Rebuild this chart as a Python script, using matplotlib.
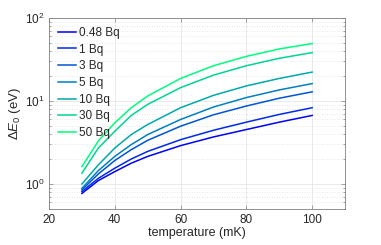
import matplotlib
matplotlib.use("Agg")
import matplotlib.pyplot as plt
import numpy as np

# temperature points (mK) and energy resolution (eV)
temperature = [30, 35, 40, 45, 50, 60, 70, 80, 90, 100]
labels = ["0.48 Bq", "1 Bq", "3 Bq", "5 Bq", "10 Bq", "30 Bq", "50 Bq"]
dE_048 = [0.77, 1.10, 1.41, 1.78, 2.15, 2.90, 3.69, 4.53, 5.56, 6.7]
dE_1 = [0.81, 1.17, 1.55, 2.00, 2.47, 3.42, 4.44, 5.56, 6.89, 8.3]
dE_3 = [0.85, 1.32, 1.92, 2.59, 3.36, 4.97, 6.82, 8.7, 10.8, 12.9]
dE_5 = [0.885, 1.45, 2.15, 2.98, 3.94, 5.99, 8.46, 11.0, 13.6, 16.2]
dE_10 = [1.0, 1.70, 2.71, 3.94, 5.21, 8.3, 11.7, 15.2, 18.7, 22.3]
dE_30 = [1.35, 2.71, 4.32, 6.7, 9.1, 14.5, 20.5, 26.6, 32.7, 38.3]
dE_50 = [1.62, 3.3, 5.46, 8.3, 11.5, 18.7, 26.6, 34.5, 42.4, 49.2]
series = [dE_048, dE_1, dE_3, dE_5, dE_10, dE_30, dE_50]

plt.rcParams["font.family"] = ["Liberation Sans", "DejaVu Sans"]
plt.rcParams["mathtext.fontset"] = "custom"
plt.rcParams["mathtext.rm"] = "Liberation Sans"
plt.rcParams["mathtext.it"] = "Liberation Sans:italic"
plt.rcParams["font.size"] = 8.5

fig = plt.figure(figsize=(3.81, 2.45), dpi=100)
ax = fig.add_axes([0.1286, 0.147, 0.777, 0.7795])

colors = plt.cm.winter(np.linspace(0, 1, len(series)))
for vals, lab, c in zip(series, labels, colors):
    ax.plot(temperature, vals, color=c, lw=1.1, label=lab,
            solid_joinstyle="round")

ax.set_yscale("log")
ax.set_xlim(20, 110)
ax.set_ylim(0.5, 100)
ax.set_xticks([20, 40, 60, 80, 100])
ax.set_yticks([1, 10, 100])

axis_col = "#262626"
for s in ax.spines.values():
    s.set_color("#808080")
    s.set_linewidth(0.6)
ax.tick_params(which="both", direction="in", top=True, right=True,
               colors="#808080", labelcolor=axis_col, width=0.5,
               labelsize=8.5)
ax.tick_params(which="major", length=3)
ax.tick_params(which="minor", length=1.6)
ax.tick_params(axis="x", which="minor", bottom=False, top=False)

ax.grid(True, which="major", color="#e6e6e6", lw=0.6, ls="-")
ax.grid(True, which="minor", axis="y", color="#e0e0e0", lw=0.6, ls=(0, (1, 2)))
ax.set_axisbelow(True)

ax.set_xlabel("temperature (mK)", color=axis_col, labelpad=1, fontsize=9)
ax.set_ylabel(r"$\mathit{\Delta E}_0$ (eV)", color=axis_col, labelpad=1,
              fontsize=9.5)

leg = ax.legend(loc="upper left", frameon=False, handlelength=1.5,
                handletextpad=0.25, labelspacing=0.4, borderaxespad=0.35,
                fontsize=8.5)
for t in leg.get_texts():
    t.set_color(axis_col)

fig.savefig("out.png", dpi=100)
